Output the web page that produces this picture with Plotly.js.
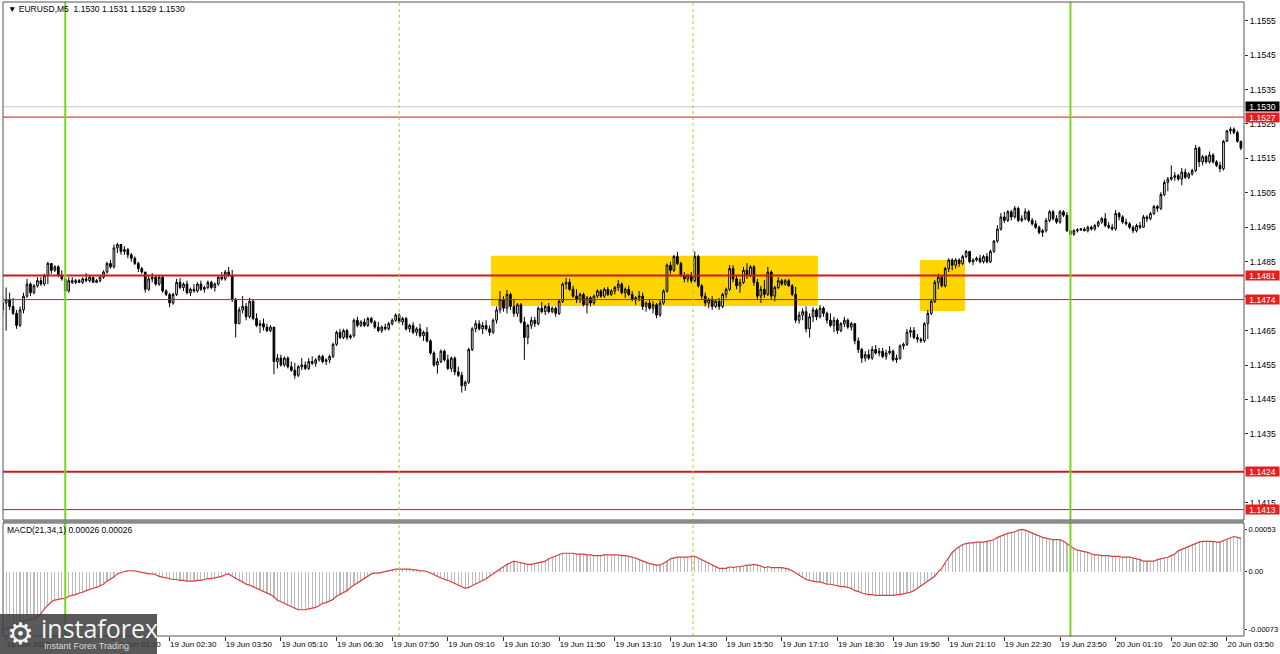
<!DOCTYPE html>
<html><head><meta charset="utf-8">
<script src="https://cdn.plot.ly/plotly-3.0.1.min.js"></script>
<style>html,body{margin:0;padding:0;background:#fff;}#chart{width:1280px;height:654px;}</style>
</head><body><div id="chart"></div>
<script>
// ===== DATA (EURUSD M5, bar index 0 = 18 Jun 22:30) =====
const openPrices = [
1.1471,1.1473,1.1474,1.1472,1.1470,1.14665,1.1471,1.1475,1.14785,1.1476,
1.1478,1.14795,1.14785,1.1481,1.14845,1.14825,1.14835,1.1481,1.1480,1.14765,
1.14795,1.1479,1.14795,1.1479,1.1480,1.14795,1.14805,1.1479,1.14795,1.14805,
1.1482,1.14845,1.14835,1.1489,1.1490,1.1488,1.14885,1.1487,1.1486,1.14845,
1.1483,1.1482,1.1477,1.1480,1.14805,1.14785,1.14805,1.14765,1.14755,1.1473,
1.14755,1.1479,1.14775,1.14785,1.1476,1.1477,1.14765,1.14785,1.1477,1.14775,
1.1479,1.14775,1.14785,1.14805,1.1480,1.1482,1.1481,1.1474,1.1467,1.1471,
1.1472,1.1469,1.14735,1.14685,1.14665,1.1467,1.1466,1.1465,1.1466,1.1456,
1.1457,1.1455,1.1457,1.14545,1.14535,1.1452,1.14545,1.1455,1.1454,1.1456,
1.14555,1.14565,1.14575,1.1456,1.14565,1.14575,1.1461,1.14645,1.1463,1.1465,
1.1463,1.14635,1.1468,1.14665,1.14675,1.14665,1.14685,1.14675,1.1466,1.1465,
1.1466,1.14655,1.1467,1.1468,1.14695,1.14675,1.14685,1.14655,1.14665,1.14645,
1.14655,1.14635,1.14645,1.1462,1.14585,1.1455,1.1456,1.1459,1.14565,1.1454,
1.1457,1.1453,1.1452,1.1449,1.1450,1.14595,1.14655,1.1467,1.14655,1.14665,
1.14655,1.14645,1.1468,1.1471,1.1474,1.14715,1.14755,1.1472,1.1470,1.14725,
1.14675,1.1463,1.14665,1.1468,1.1467,1.14715,1.14705,1.1472,1.14705,1.14715,
1.1470,1.14735,1.14785,1.1479,1.1477,1.1475,1.1474,1.14755,1.14725,1.14745,
1.1473,1.1475,1.14765,1.1475,1.1477,1.14755,1.14765,1.14775,1.14785,1.1476,
1.1477,1.14755,1.1474,1.14745,1.1475,1.1472,1.1473,1.14715,1.14725,1.14695,
1.1473,1.14765,1.1484,1.14825,1.14865,1.14845,1.1481,1.1480,1.1481,1.14795,
1.14865,1.1478,1.1475,1.1473,1.1474,1.1472,1.14735,1.1472,1.14755,1.1477,
1.1483,1.1480,1.1478,1.1479,1.14825,1.1481,1.14835,1.1479,1.1475,1.1477,
1.14755,1.1482,1.1475,1.14775,1.14795,1.14785,1.14795,1.1478,1.14755,1.1468,
1.14695,1.14705,1.14655,1.1469,1.1471,1.1469,1.14715,1.1470,1.1468,1.14665,
1.1468,1.1465,1.1467,1.1468,1.1466,1.1467,1.1462,1.14595,1.1457,1.1458,
1.1457,1.14595,1.14585,1.1459,1.14575,1.14585,1.1459,1.14565,1.1457,1.14605,
1.1461,1.14645,1.1465,1.1463,1.14625,1.1462,1.1467,1.1470,1.14735,1.1479,
1.14805,1.1478,1.1483,1.14855,1.1484,1.14855,1.14845,1.14865,1.1488,1.1485,
1.14855,1.1486,1.1485,1.14865,1.1485,1.1488,1.1491,1.14945,1.1498,1.1497,
1.14995,1.1498,1.15005,1.1497,1.14975,1.14995,1.1497,1.1496,1.1495,1.14935,
1.1494,1.1497,1.14995,1.14975,1.14965,1.14995,1.14985,1.1494,1.1493,1.1494,
1.14942,1.14945,1.1494,1.1495,1.14945,1.14955,1.14965,1.14975,1.14955,1.1495,
1.14945,1.1499,1.1498,1.14965,1.1496,1.1495,1.1494,1.14955,1.1495,1.1498,
1.14975,1.1499,1.1501,1.15005,1.15045,1.1508,1.1509,1.15095,1.1510,1.1509,
1.1511,1.15095,1.15105,1.15115,1.1518,1.1514,1.15155,1.1514,1.1516,1.1514,
1.1513,1.1512,1.1520,1.1523,1.15235,1.15225,1.1520];
const highPrices = [
1.1475,1.14775,1.1476,1.14745,1.1471,1.1472,1.1476,1.1480,1.1479,1.14785,
1.14805,1.14805,1.14815,1.1485,1.14845,1.1484,1.1484,1.14825,1.14805,1.14805,
1.14805,1.1480,1.1480,1.14805,1.14817,1.1481,1.14805,1.1480,1.1481,1.14825,
1.1485,1.14855,1.1490,1.14905,1.1490,1.14895,1.1489,1.14875,1.14865,1.1485,
1.14835,1.1482,1.1481,1.14817,1.1481,1.1481,1.1481,1.1477,1.1476,1.1476,
1.1480,1.14803,1.1479,1.14795,1.14775,1.14785,1.1479,1.14795,1.1478,1.14795,
1.14795,1.1479,1.1481,1.1482,1.14826,1.14835,1.14826,1.14745,1.14718,1.1475,
1.1473,1.14745,1.1474,1.1470,1.1468,1.14685,1.1467,1.14666,1.1466,1.14582,
1.1458,1.14575,1.14575,1.1456,1.14556,1.1455,1.1457,1.1456,1.1457,1.14575,
1.1457,1.1458,1.1458,1.1457,1.1458,1.14615,1.1465,1.14655,1.14655,1.14655,
1.1464,1.14685,1.1469,1.1468,1.14685,1.1469,1.1469,1.1468,1.14675,1.14665,
1.1467,1.14675,1.14685,1.1470,1.1470,1.1469,1.1469,1.1467,1.14675,1.1466,
1.1467,1.1465,1.1466,1.14625,1.1459,1.1457,1.14595,1.14595,1.1458,1.14575,
1.14575,1.14545,1.1453,1.14505,1.1460,1.1466,1.1468,1.1468,1.14675,1.1468,
1.14665,1.14685,1.1472,1.14765,1.1475,1.14768,1.1476,1.1474,1.1473,1.1473,
1.1469,1.1467,1.1469,1.1469,1.1472,1.14733,1.14725,1.1473,1.1472,1.1472,
1.1474,1.1479,1.14803,1.1480,1.1478,1.1477,1.1476,1.1476,1.1475,1.1475,
1.14755,1.1477,1.1477,1.14775,1.14777,1.1477,1.1478,1.14797,1.1479,1.14775,
1.1478,1.14765,1.1475,1.14765,1.1476,1.14735,1.1474,1.14735,1.1473,1.1474,
1.1477,1.14845,1.1485,1.1487,1.14878,1.1485,1.1482,1.14815,1.1482,1.1488,
1.1487,1.14785,1.1476,1.14745,1.1475,1.1474,1.14745,1.1476,1.14775,1.1484,
1.1484,1.1481,1.1480,1.14835,1.14846,1.1484,1.1484,1.1480,1.1478,1.14797,
1.14835,1.14825,1.1478,1.14805,1.1480,1.1480,1.1480,1.14785,1.14777,1.14705,
1.14715,1.1472,1.1470,1.14718,1.14715,1.14724,1.1472,1.14705,1.1470,1.1469,
1.14685,1.14675,1.1469,1.14685,1.14675,1.14672,1.1463,1.1460,1.1459,1.14595,
1.14605,1.14608,1.1460,1.1460,1.14595,1.14605,1.14595,1.1458,1.1461,1.14615,
1.14655,1.1466,1.1466,1.1464,1.1463,1.14675,1.1471,1.1474,1.14797,1.14815,
1.1481,1.14835,1.1486,1.1486,1.1486,1.1486,1.1487,1.14884,1.1488,1.1486,
1.14865,1.1487,1.1487,1.14875,1.14885,1.14913,1.14956,1.14991,1.14995,1.1500,
1.1500,1.15012,1.1501,1.14985,1.15005,1.1500,1.14977,1.1497,1.14955,1.14945,
1.14977,1.1500,1.1500,1.14985,1.1500,1.1500,1.14994,1.1495,1.14945,1.14947,
1.14948,1.1495,1.14955,1.14955,1.1496,1.1497,1.1498,1.14991,1.14965,1.1496,
1.1500,1.14995,1.14985,1.14975,1.14965,1.14955,1.1496,1.14965,1.14986,1.14985,
1.14995,1.15015,1.15015,1.15052,1.15087,1.15096,1.1513,1.1511,1.15105,1.15122,
1.1512,1.1511,1.1512,1.15189,1.15185,1.1516,1.1516,1.1517,1.15165,1.15145,
1.1514,1.15203,1.15232,1.15241,1.1524,1.1523,1.1520];
const lowPrices = [
1.1469,1.1465,1.1471,1.14695,1.14655,1.1466,1.1470,1.14745,1.1475,1.14755,
1.14775,1.1478,1.1478,1.14785,1.14815,1.1482,1.14805,1.14795,1.14748,1.1476,
1.14785,1.14785,1.1479,1.14785,1.1479,1.1479,1.1479,1.14788,1.1479,1.1480,
1.14815,1.1483,1.1483,1.14875,1.1487,1.1487,1.1486,1.1485,1.1484,1.1482,
1.14815,1.1476,1.14765,1.1479,1.1478,1.1478,1.1476,1.1475,1.14718,1.14725,
1.1475,1.1477,1.14765,1.14755,1.1475,1.1476,1.1476,1.14765,1.1476,1.1477,
1.1477,1.14763,1.1478,1.14795,1.14795,1.14805,1.14733,1.1463,1.1467,1.1470,
1.1468,1.14685,1.1468,1.1466,1.14643,1.1465,1.14645,1.14645,1.14523,1.1454,
1.14545,1.14545,1.1454,1.1453,1.1451,1.14515,1.14535,1.14535,1.14535,1.1455,
1.14545,1.1456,1.14555,1.1455,1.14555,1.1457,1.14605,1.14625,1.14625,1.14623,
1.14625,1.1463,1.1466,1.1466,1.1466,1.1466,1.1467,1.14655,1.14645,1.14643,
1.1465,1.1465,1.14665,1.14675,1.1467,1.14665,1.1465,1.14645,1.1464,1.14635,
1.1463,1.1462,1.14615,1.1458,1.14545,1.14525,1.14555,1.1456,1.14535,1.1453,
1.1452,1.14515,1.1447,1.14475,1.14495,1.1459,1.14645,1.1465,1.1464,1.1465,
1.14635,1.1464,1.1467,1.1470,1.14705,1.1470,1.1471,1.1469,1.1469,1.1467,
1.14565,1.1461,1.14655,1.1466,1.14665,1.1470,1.14695,1.1470,1.1470,1.1469,
1.14695,1.1473,1.1477,1.14765,1.14745,1.1473,1.1473,1.1472,1.1470,1.1472,
1.14725,1.14745,1.14745,1.14745,1.1475,1.1475,1.14755,1.14765,1.14755,1.14745,
1.1475,1.14735,1.14725,1.14735,1.1471,1.14705,1.1471,1.1470,1.14686,1.1469,
1.14725,1.1476,1.14815,1.1482,1.1484,1.14805,1.1479,1.1479,1.14788,1.1479,
1.14775,1.1474,1.1472,1.14715,1.1471,1.14715,1.1471,1.14715,1.14745,1.14765,
1.1479,1.1477,1.1476,1.14785,1.1480,1.14805,1.1478,1.1474,1.1473,1.14745,
1.1475,1.1474,1.14735,1.1477,1.1478,1.1478,1.14777,1.1475,1.14672,1.1467,
1.1468,1.14645,1.1463,1.14675,1.1468,1.14685,1.1469,1.1467,1.1466,1.14645,
1.1464,1.14645,1.1466,1.14655,1.1465,1.1461,1.14585,1.14556,1.1456,1.14565,
1.14565,1.1458,1.14575,1.1457,1.14565,1.1458,1.1456,1.14556,1.14565,1.14595,
1.14605,1.1463,1.14625,1.14615,1.14614,1.14615,1.14625,1.14695,1.1473,1.1477,
1.14775,1.14775,1.1482,1.14825,1.1483,1.14835,1.1484,1.1486,1.14845,1.1484,
1.1485,1.14845,1.14845,1.14845,1.14846,1.14875,1.14905,1.1494,1.14962,1.14965,
1.1497,1.14975,1.14965,1.14965,1.1497,1.14965,1.14955,1.14945,1.1493,1.14922,
1.14935,1.14965,1.1497,1.1496,1.1496,1.1498,1.14936,1.14922,1.14925,1.14935,
1.1494,1.14938,1.14935,1.1494,1.1494,1.1495,1.1496,1.1495,1.14945,1.1494,
1.1494,1.1497,1.1496,1.14955,1.14945,1.14933,1.14935,1.14945,1.14948,1.14965,
1.1497,1.14985,1.14995,1.1500,1.1504,1.15055,1.15085,1.15085,1.15085,1.15072,
1.1509,1.1509,1.1510,1.1511,1.15125,1.1513,1.15135,1.15135,1.15135,1.15125,
1.1511,1.15115,1.15198,1.1522,1.1522,1.15195,1.15174];
const closePrices = [
1.1473,1.1474,1.1472,1.1470,1.14665,1.1471,1.1475,1.14785,1.1476,1.1478,
1.14795,1.14785,1.1481,1.14845,1.14825,1.14835,1.1481,1.1480,1.14765,1.14795,
1.1479,1.14795,1.1479,1.1480,1.14795,1.14805,1.1479,1.14795,1.14805,1.1482,
1.14845,1.14835,1.1489,1.1490,1.1488,1.14885,1.1487,1.1486,1.14845,1.1483,
1.1482,1.1477,1.1480,1.14805,1.14785,1.14805,1.14765,1.14755,1.1473,1.14755,
1.1479,1.14775,1.14785,1.1476,1.1477,1.14765,1.14785,1.1477,1.14775,1.1479,
1.14775,1.14785,1.14805,1.1480,1.1482,1.1481,1.1474,1.1467,1.1471,1.1472,
1.1469,1.14735,1.14685,1.14665,1.1467,1.1466,1.1465,1.1466,1.1456,1.1457,
1.1455,1.1457,1.14545,1.14535,1.1452,1.14545,1.1455,1.1454,1.1456,1.14555,
1.14565,1.14575,1.1456,1.14565,1.14575,1.1461,1.14645,1.1463,1.1465,1.1463,
1.14635,1.1468,1.14665,1.14675,1.14665,1.14685,1.14675,1.1466,1.1465,1.1466,
1.14655,1.1467,1.1468,1.14695,1.14675,1.14685,1.14655,1.14665,1.14645,1.14655,
1.14635,1.14645,1.1462,1.14585,1.1455,1.1456,1.1459,1.14565,1.1454,1.1457,
1.1453,1.1452,1.1449,1.1450,1.14595,1.14655,1.1467,1.14655,1.14665,1.14655,
1.14645,1.1468,1.1471,1.1474,1.14715,1.14755,1.1472,1.1470,1.14725,1.14675,
1.1463,1.14665,1.1468,1.1467,1.14715,1.14705,1.1472,1.14705,1.14715,1.1470,
1.14735,1.14785,1.1479,1.1477,1.1475,1.1474,1.14755,1.14725,1.14745,1.1473,
1.1475,1.14765,1.1475,1.1477,1.14755,1.14765,1.14775,1.14785,1.1476,1.1477,
1.14755,1.1474,1.14745,1.1475,1.1472,1.1473,1.14715,1.14725,1.14695,1.1473,
1.14765,1.1484,1.14825,1.14865,1.14845,1.1481,1.1480,1.1481,1.14795,1.14865,
1.1478,1.1475,1.1473,1.1474,1.1472,1.14735,1.1472,1.14755,1.1477,1.1483,
1.1480,1.1478,1.1479,1.14825,1.1481,1.14835,1.1479,1.1475,1.1477,1.14755,
1.1482,1.1475,1.14775,1.14795,1.14785,1.14795,1.1478,1.14755,1.1468,1.14695,
1.14705,1.14655,1.1469,1.1471,1.1469,1.14715,1.1470,1.1468,1.14665,1.1468,
1.1465,1.1467,1.1468,1.1466,1.1467,1.1462,1.14595,1.1457,1.1458,1.1457,
1.14595,1.14585,1.1459,1.14575,1.14585,1.1459,1.14565,1.1457,1.14605,1.1461,
1.14645,1.1465,1.1463,1.14625,1.1462,1.1467,1.1470,1.14735,1.1479,1.14805,
1.1478,1.1483,1.14855,1.1484,1.14855,1.14845,1.14865,1.1488,1.1485,1.14855,
1.1486,1.1485,1.14865,1.1485,1.1488,1.1491,1.14945,1.1498,1.1497,1.14995,
1.1498,1.15005,1.1497,1.14975,1.14995,1.1497,1.1496,1.1495,1.14935,1.1494,
1.1497,1.14995,1.14975,1.14965,1.14995,1.14985,1.1494,1.1493,1.1494,1.14942,
1.14945,1.1494,1.1495,1.14945,1.14955,1.14965,1.14975,1.14955,1.1495,1.14945,
1.1499,1.1498,1.14965,1.1496,1.1495,1.1494,1.14955,1.1495,1.1498,1.14975,
1.1499,1.1501,1.15005,1.15045,1.1508,1.1509,1.15095,1.1510,1.1509,1.1511,
1.15095,1.15105,1.15115,1.1518,1.1514,1.15155,1.1514,1.1516,1.1514,1.1513,
1.1512,1.1520,1.1523,1.15235,1.15225,1.1520,1.1518];
const macdValues = [
-0.00073,-0.00072,-0.00070,-0.00068,-0.00066,-0.00064,-0.00063,-0.00061,-0.00060,-0.00059,
-0.00057,-0.00053,-0.00047,-0.00043,-0.00038,-0.00036,-0.00035,-0.00034,-0.00034,-0.00031,
-0.00030,-0.00029,-0.00027,-0.00026,-0.00024,-0.00022,-0.00021,-0.00020,-0.00018,-0.00016,
-0.00012,-0.00010,-0.00007,-0.00003,-0.00001,0.00000,0.00001,0.00001,0.00001,0.00000,
-0.00001,-0.00002,-0.00003,-0.00003,-0.00004,-0.00006,-0.00007,-0.00008,-0.00009,-0.00010,
-0.00010,-0.00011,-0.00011,-0.00012,-0.00012,-0.00012,-0.00011,-0.00011,-0.00010,-0.00009,
-0.00009,-0.00008,-0.00007,-0.00006,-0.00004,-0.00003,-0.00006,-0.00009,-0.00011,-0.00013,
-0.00016,-0.00017,-0.00019,-0.00021,-0.00022,-0.00025,-0.00027,-0.00029,-0.00032,-0.00036,
-0.00038,-0.00040,-0.00043,-0.00045,-0.00047,-0.00048,-0.00048,-0.00048,-0.00047,-0.00046,
-0.00045,-0.00043,-0.00040,-0.00039,-0.00037,-0.00035,-0.00031,-0.00029,-0.00026,-0.00024,
-0.00020,-0.00017,-0.00015,-0.00011,-0.00009,-0.00006,-0.00003,-0.00002,-0.00002,-0.00001,
0.00000,0.00001,0.00002,0.00003,0.00003,0.00003,0.00003,0.00003,0.00002,0.00002,
0.00001,0.00001,0.00000,-0.00002,-0.00004,-0.00007,-0.00008,-0.00010,-0.00011,-0.00013,
-0.00016,-0.00018,-0.00020,-0.00021,-0.00020,-0.00018,-0.00016,-0.00013,-0.00011,-0.00009,
-0.00006,-0.00003,0.00000,0.00003,0.00007,0.00009,0.00011,0.00013,0.00012,0.00011,
0.00010,0.00009,0.00009,0.00010,0.00011,0.00012,0.00013,0.00016,0.00018,0.00020,
0.00022,0.00023,0.00023,0.00023,0.00023,0.00022,0.00022,0.00022,0.00021,0.00021,
0.00020,0.00020,0.00020,0.00021,0.00021,0.00021,0.00021,0.00021,0.00020,0.00020,
0.00019,0.00018,0.00017,0.00015,0.00013,0.00012,0.00010,0.00009,0.00008,0.00008,
0.00010,0.00013,0.00016,0.00017,0.00018,0.00018,0.00018,0.00018,0.00019,0.00019,
0.00017,0.00015,0.00013,0.00011,0.00008,0.00006,0.00004,0.00004,0.00004,0.00006,
0.00005,0.00006,0.00006,0.00007,0.00008,0.00008,0.00009,0.00008,0.00007,0.00005,
0.00006,0.00005,0.00005,0.00005,0.00005,0.00004,0.00003,0.00001,-0.00002,-0.00005,
-0.00008,-0.00010,-0.00011,-0.00012,-0.00013,-0.00013,-0.00015,-0.00016,-0.00016,-0.00017,
-0.00018,-0.00019,-0.00019,-0.00020,-0.00021,-0.00024,-0.00025,-0.00027,-0.00028,-0.00029,
-0.00029,-0.00030,-0.00030,-0.00030,-0.00030,-0.00030,-0.00030,-0.00029,-0.00029,-0.00028,
-0.00027,-0.00026,-0.00024,-0.00021,-0.00019,-0.00016,-0.00012,-0.00009,-0.00006,0.00000,
0.00004,0.00011,0.00018,0.00024,0.00028,0.00031,0.00034,0.00035,0.00036,0.00036,
0.00037,0.00037,0.00037,0.00038,0.00039,0.00040,0.00043,0.00045,0.00047,0.00048,
0.00049,0.00050,0.00052,0.00053,0.00052,0.00050,0.00048,0.00046,0.00045,0.00043,
0.00042,0.00041,0.00040,0.00040,0.00040,0.00038,0.00035,0.00031,0.00029,0.00027,
0.00026,0.00025,0.00024,0.00022,0.00021,0.00021,0.00020,0.00020,0.00020,0.00019,
0.00019,0.00019,0.00018,0.00018,0.00018,0.00017,0.00016,0.00015,0.00013,0.00013,
0.00013,0.00013,0.00015,0.00016,0.00017,0.00018,0.00020,0.00022,0.00026,0.00028,
0.00030,0.00031,0.00034,0.00036,0.00037,0.00038,0.00038,0.00038,0.00038,0.00037,
0.00037,0.00039,0.00041,0.00043,0.00044,0.00043,0.00042];

const timeTickIdx = [1,32,48,64,80,96,112,128,144,160,176,192,208,224,240,256,272,288,304,320,336,352];
const timeTickText = ["18 Jun 2025","19 Jun 01:10","19 Jun 02:30","19 Jun 03:50","19 Jun 05:10","19 Jun 06:30",
  "19 Jun 07:50","19 Jun 09:10","19 Jun 10:30","19 Jun 11:50","19 Jun 13:10","19 Jun 14:30","19 Jun 15:50",
  "19 Jun 17:10","19 Jun 18:30","19 Jun 19:50","19 Jun 21:10","19 Jun 22:30","19 Jun 23:50","20 Jun 01:10",
  "20 Jun 02:30","20 Jun 03:50"];
const priceTicks = [1.1415,1.1425,1.1435,1.1445,1.1455,1.1465,1.1475,1.1485,1.1495,1.1505,1.1515,1.1525,1.1535,1.1545,1.1555];
const macdTicks = [0.00053, 0, -0.00073];
const macdTickText = ["0.00053","0.00","-0.00073"];
const levelPrices = [1.1527, 1.1481, 1.1474, 1.1424, 1.1413];
const currentPrice = 1.1530;
const dayBreakIdx = [18, 307];
const sessionIdx = [114, 198.5];
const zoneStartIdx = [140.4, 263.7];
const zoneEndIdx = [234.4, 276.7];
const zoneLow = [1.14721, 1.14707];
const zoneHigh = [1.14867, 1.14855];
const headerText = "▼ EURUSD,M5  1.1530 1.1531 1.1529 1.1530";
const macdLabel = "MACD(21,34,1) 0.00026 0.00026";

// ===== LAYOUT / STYLE =====
const W = 1280, H = 654;
const px = x => x / W;
const py = y => 1 - y / H;
const X0 = px(3), X1 = px(1244);
const barIdx = closePrices.map((_, i) => i);
const xRange = [0.1, 356.9];
const FONT = "Liberation Sans, Arial, sans-serif";

// price labels hidden behind a level box in the terminal (within 1.5 pips of a level)
const priceTickText = priceTicks.map(v =>
  levelPrices.some(l => Math.abs(l - v) < 0.00015) ? '' : v.toFixed(4));

const traces = [
  {
    type: 'candlestick', x: barIdx, open: openPrices, high: highPrices, low: lowPrices, close: closePrices,
    xaxis: 'x', yaxis: 'y',
    increasing: { line: { color: '#000', width: 1 }, fillcolor: '#ffffff' },
    decreasing: { line: { color: '#000', width: 1 }, fillcolor: '#000000' },
    whiskerwidth: 0, hoverinfo: 'skip', showlegend: false
  },
  {
    type: 'bar', x: barIdx, y: macdValues, xaxis: 'x2', yaxis: 'y2',
    marker: { color: '#bcbcbc', line: { width: 0 } }, width: 0.32, hoverinfo: 'skip', showlegend: false
  },
  {
    type: 'scatter', mode: 'lines', x: barIdx, y: macdValues, xaxis: 'x2', yaxis: 'y2',
    line: { color: 'rgb(214,64,64)', width: 1.2 }, hoverinfo: 'skip', showlegend: false
  }
];

const shapes = [];
zoneStartIdx.forEach((s, k) => shapes.push({
  type: 'rect', xref: 'x', yref: 'y', x0: s, x1: zoneEndIdx[k], y0: zoneLow[k], y1: zoneHigh[k],
  fillcolor: '#FFD400', line: { width: 0 }, layer: 'below'
}));
shapes.push({ type: 'line', xref: 'paper', yref: 'y', x0: X0, x1: X1, y0: currentPrice, y1: currentPrice,
  line: { color: '#c6c6c6', width: 1 }, layer: 'above' });
const levelWidth = [1, 2, 1, 2, 1];
levelPrices.forEach((p, k) => shapes.push({
  type: 'line', xref: 'paper', yref: 'y', x0: X0, x1: X1, y0: p, y1: p,
  line: { color: 'rgb(200,28,28)', width: levelWidth[k] }, layer: 'above'
}));
dayBreakIdx.forEach(v => shapes.push({
  type: 'line', xref: 'x', yref: 'paper', x0: v, x1: v, y0: py(636), y1: py(2),
  line: { color: 'rgb(120,215,30)', width: 2 }, layer: 'above'
}));
sessionIdx.forEach(v => shapes.push({
  type: 'line', xref: 'x', yref: 'paper', x0: v, x1: v, y0: py(636), y1: py(2),
  line: { color: 'rgb(160,210,50)', width: 1, dash: '3px,3px' }, layer: 'above'
}));
// frames
shapes.push({ type: 'rect', xref: 'paper', yref: 'paper', x0: X0, x1: X1, y0: py(520), y1: py(2),
  line: { color: '#555', width: 1 }, fillcolor: 'rgba(0,0,0,0)', layer: 'above' });
shapes.push({ type: 'rect', xref: 'paper', yref: 'paper', x0: X0, x1: X1, y0: py(636), y1: py(523),
  line: { color: '#555', width: 1 }, fillcolor: 'rgba(0,0,0,0)', layer: 'above' });
shapes.push({ type: 'rect', xref: 'paper', yref: 'paper', x0: X0, x1: X1, y0: py(523), y1: py(520),
  line: { width: 0 }, fillcolor: '#8a8a8a', layer: 'above' });
// logo panel
shapes.push({ type: 'rect', xref: 'paper', yref: 'paper', x0: 0, x1: px(157), y0: 0, y1: py(614),
  line: { width: 0 }, fillcolor: 'rgba(62,62,62,0.86)', layer: 'above' });

const annotations = [];
annotations.push({ xref: 'paper', yref: 'paper', x: px(6), y: py(9), xanchor: 'left', yanchor: 'middle',
  text: headerText, showarrow: false, font: { family: FONT, size: 8.5, color: '#000' } });
annotations.push({ xref: 'paper', yref: 'paper', x: px(5), y: py(530), xanchor: 'left', yanchor: 'middle',
  text: macdLabel, showarrow: false, font: { family: FONT, size: 8.5, color: '#000' } });
annotations.push({ xref: 'paper', yref: 'y', x: px(1245), y: currentPrice, xanchor: 'left', yanchor: 'middle',
  text: currentPrice.toFixed(4), showarrow: false, bgcolor: '#000', width: 33, height: 9, borderpad: 0,
  font: { family: FONT, size: 8.5, color: '#fff' } });
levelPrices.forEach(p => annotations.push({ xref: 'paper', yref: 'y', x: px(1245), y: p, xanchor: 'left', yanchor: 'middle',
  text: p.toFixed(4), showarrow: false, bgcolor: 'rgb(232,30,30)', width: 33, height: 9, borderpad: 0,
  font: { family: FONT, size: 8.5, color: '#fff' } }));
// logo texts
annotations.push({ xref: 'paper', yref: 'paper', x: px(20), y: py(633), xanchor: 'center', yanchor: 'middle',
  text: '⚙', showarrow: false, font: { family: 'DejaVu Sans', size: 30, color: '#f2f2f2' } });
annotations.push({ xref: 'paper', yref: 'paper', x: px(39), y: py(628), xanchor: 'left', yanchor: 'middle',
  text: 'instaforex', showarrow: false, font: { family: 'Open Sans, sans-serif', size: 25, color: '#f4f4f4' } });
annotations.push({ xref: 'paper', yref: 'paper', x: px(42), y: py(646), xanchor: 'left', yanchor: 'middle',
  text: 'Instant Forex Trading', showarrow: false, font: { family: FONT, size: 9, color: '#d8d8d8' } });

const layout = {
  width: W, height: H, margin: { l: 0, r: 0, t: 0, b: 0 },
  paper_bgcolor: '#fff', plot_bgcolor: '#fff', showlegend: false, hovermode: false,
  xaxis: { domain: [X0, X1], range: xRange, anchor: 'y', type: 'linear', showgrid: false, zeroline: false,
    showticklabels: false, ticks: '', showline: false, rangeslider: { visible: false }, fixedrange: true },
  yaxis: { domain: [py(520), py(2)], range: [1.140998, 1.156043], anchor: 'x', side: 'right',
    tickmode: 'array', tickvals: priceTicks, ticktext: priceTickText,
    ticks: 'outside', ticklen: 3, tickcolor: '#333', showgrid: false, zeroline: false, showline: false,
    tickfont: { family: FONT, size: 8.5, color: '#000' }, fixedrange: true },
  xaxis2: { domain: [X0, X1], range: xRange, anchor: 'y2', type: 'linear', showgrid: false, zeroline: false,
    tickmode: 'array', tickvals: timeTickIdx, ticktext: timeTickText, ticks: 'outside', ticklen: 4,
    tickcolor: '#333', ticklabelposition: 'outside right', tickangle: 0,
    tickfont: { family: FONT, size: 8, color: '#000' }, showline: false, fixedrange: true },
  yaxis2: { domain: [py(636), py(523)], range: [-0.00081, 0.00061], anchor: 'x2', side: 'right',
    tickmode: 'array', tickvals: macdTicks, ticktext: macdTickText, ticks: 'outside', ticklen: 2,
    tickcolor: '#333', showgrid: false, zeroline: false, showline: false,
    tickfont: { family: FONT, size: 7.5, color: '#000' }, fixedrange: true },
  shapes: shapes, annotations: annotations, bargap: 0
};

Plotly.newPlot('chart', traces, layout, { staticPlot: true, displayModeBar: false });
</script>
</body></html>
